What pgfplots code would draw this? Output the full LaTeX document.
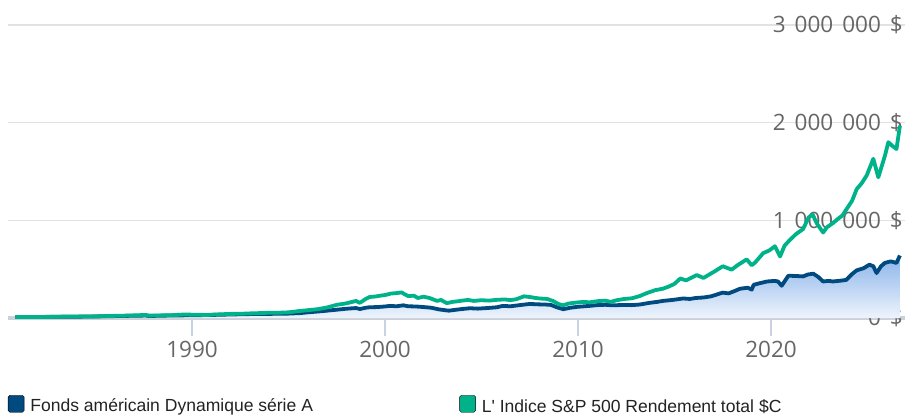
\documentclass[border=0pt]{standalone}
\usepackage{pgfplots}
\pgfplotsset{compat=1.18}
\usepackage{pgfplotstable}
\usepackage{fontspec}
\setmainfont{Open Sans}
\newfontfamily\legendfont{Liberation Sans}
\definecolor{fundblue}{RGB}{0,74,127}
\definecolor{spgreen}{RGB}{0,178,138}
\definecolor{filltop}{RGB}{138,180,234}
\definecolor{fillbot}{RGB}{238,244,252}
\definecolor{gridgray}{RGB}{226,226,226}
\definecolor{basegray}{RGB}{204,208,216}
\definecolor{tickblue}{RGB}{200,210,228}
\definecolor{labelgray}{RGB}{102,102,102}
\definecolor{legendtext}{RGB}{34,34,34}
\newcommand{\gsp}{\hspace{0.4em}}

\pgfplotstableread{
year value
1980.85 10000
1982.0 10500
1983.0 12500
1984.0 13500
1985.0 16000
1986.0 19500
1987.0 23000
1987.6 25000
1987.8 20000
1988.0 21500
1989.0 26000
1990.0 28000
1991.0 31000
1992.0 36000
1993.0 40000
1994.0 42000
1995.0 45000
1995.6 50000
1996.0 58000
1996.5 66000
1997.0 75000
1997.5 85000
1998.0 95000
1998.5 102000
1998.7 92000
1999.0 105000
1999.2 110000
1999.6 112000
2000.0 118000
2000.26 124000
2000.6 120000
2000.95 130000
2001.2 120000
2001.6 118000
2002.0 112000
2002.4 105000
2002.8 88000
2003.3 75000
2003.7 85000
2004.0 92000
2004.4 100000
2004.8 96000
2005.3 102000
2005.8 110000
2006.1 124000
2006.5 120000
2006.9 130000
2007.5 144000
2007.9 140000
2008.3 138000
2008.6 134000
2008.9 110000
2009.24 90000
2009.6 105000
2010.0 115000
2010.6 124000
2011.0 132000
2011.4 135000
2011.8 130000
2012.3 133000
2012.8 132000
2013.2 138000
2013.7 155000
2014.1 165000
2014.4 175000
2014.9 185000
2015.45 200000
2015.8 195000
2016.1 205000
2016.5 210000
2016.9 222000
2017.5 260000
2017.8 252000
2018.1 275000
2018.4 300000
2018.8 310000
2019.0 290000
2019.1 340000
2019.43 357000
2019.8 374000
2020.2 380000
2020.36 374000
2020.55 330000
2020.9 433000
2021.3 430000
2021.67 426000
2021.9 445000
2022.19 454000
2022.45 420000
2022.7 374000
2023.0 380000
2023.2 374000
2023.6 382000
2023.9 390000
2024.2 450000
2024.44 488000
2024.8 510000
2025.1 546000
2025.3 530000
2025.47 460000
2025.7 530000
2025.9 564000
2026.2 580000
2026.5 564000
2026.68 640000
}\fund

\pgfplotstableread{
year value
1980.85 10000
1981.5 10500
1982.0 10000
1982.5 10500
1983.0 13000
1983.5 15000
1984.0 14500
1984.5 15000
1985.0 17000
1985.5 19500
1986.0 22000
1986.5 24000
1987.0 27000
1987.6 31000
1987.8 24000
1988.0 25500
1988.5 27000
1989.0 29000
1989.6 36000
1990.0 34000
1990.8 31000
1991.0 34000
1991.5 38000
1992.0 42000
1992.5 43000
1993.0 47000
1993.5 50000
1994.0 54000
1994.5 54000
1995.0 58000
1995.5 70000
1996.0 80000
1996.5 90000
1997.0 108000
1997.5 135000
1998.0 150000
1998.5 175000
1998.7 155000
1999.0 195000
1999.2 215000
1999.5 220000
1999.8 230000
2000.0 235000
2000.3 250000
2000.6 255000
2000.86 262000
2001.0 245000
2001.2 225000
2001.5 228000
2001.7 205000
2002.0 218000
2002.3 205000
2002.5 190000
2002.7 175000
2002.9 185000
2003.2 152000
2003.5 165000
2003.8 172000
2004.0 178000
2004.3 185000
2004.6 175000
2005.0 182000
2005.4 178000
2005.8 186000
2006.2 190000
2006.5 183000
2006.8 192000
2007.2 222000
2007.5 215000
2007.8 205000
2008.0 200000
2008.4 195000
2008.7 175000
2009.0 142000
2009.24 130000
2009.5 148000
2009.9 158000
2010.3 165000
2010.6 160000
2011.0 172000
2011.4 178000
2011.7 165000
2012.0 182000
2012.4 195000
2012.8 202000
2013.2 225000
2013.6 258000
2014.0 285000
2014.4 300000
2014.7 322000
2015.0 350000
2015.3 405000
2015.6 385000
2015.9 415000
2016.15 440000
2016.5 410000
2016.8 445000
2017.1 480000
2017.5 530000
2017.96 495000
2018.3 545000
2018.74 600000
2019.0 540000
2019.16 565000
2019.6 665000
2019.9 690000
2020.2 735000
2020.47 630000
2020.7 740000
2020.98 800000
2021.3 860000
2021.66 910000
2021.95 1030000
2022.15 1060000
2022.4 960000
2022.7 875000
2022.9 930000
2023.2 970000
2023.5 1020000
2023.7 1050000
2023.9 1110000
2024.2 1200000
2024.44 1320000
2024.7 1380000
2024.96 1460000
2025.3 1630000
2025.56 1440000
2025.9 1660000
2026.08 1800000
2026.3 1760000
2026.5 1730000
2026.68 1970000
}\spx

\begin{document}
\begin{tikzpicture}
\path[use as bounding box] (0,0) rectangle (905bp,415bp);
\begin{axis}[
  at={(8bp,97bp)}, anchor=south west,
  scale only axis, width=897bp, height=293bp,
  xmin=1980.466, xmax=2026.943,
  ymin=0, ymax=3000000,
  axis x line*=bottom,
  x axis line style={draw=basegray, line width=3bp},
  y axis line style={draw=none},
  xtick={1990,2000,2010,2020},
  xticklabels={1990,2000,2010,2020},
  ytick={0,1000000,2000000,3000000},
  yticklabels={0\gsp\$,1\gsp000\gsp000\gsp\$,2\gsp000\gsp000\gsp\$,3\gsp000\gsp000\gsp\$},
  scaled y ticks=false,
  ymajorgrids,
  major grid style={draw=gridgray, line width=1.3bp},
  xtick align=outside,
  ytick align=inside,
  major tick length=18bp,
  xtick style={draw=tickblue, line width=1.5bp},
  ytick style={draw=none},
  ticklabel style={font=\fontsize{22.6}{26}\selectfont, text=labelgray},
  yticklabel pos=left,
  yticklabel style={anchor=east, inner sep=0pt, xshift=895bp},
  xticklabel style={anchor=north, inner sep=0pt, yshift=-5bp},
  clip=false,
  legend columns=2,
  legend image code/.code={\fill[#1, rounded corners=1.8bp] (0bp,-6bp) rectangle (16bp,11bp);},
  legend style={draw=none, fill=none, inner sep=0pt, outer sep=0pt,
    at={(axis description cs:0,-0.263)}, anchor=north west,
    font=\legendfont\fontsize{17.6}{20}\selectfont,
    nodes={inner sep=0pt, text=legendtext},
    /tikz/every odd column/.append style={column sep=6bp},
    /tikz/every even column/.append style={column sep=0bp}},
]
\addplot[draw=none, top color=filltop, bottom color=fillbot, forget plot] table[x=year, y=value] {\fund} \closedcycle;
\addplot[fundblue, line width=3.8bp, line join=round, forget plot] table[x=year, y=value] {\fund};
\addplot[spgreen, line width=3.8bp, line join=round, forget plot] table[x=year, y=value] {\spx};
\addlegendimage{fill=fundblue}
\addlegendentry{\makebox[429bp][l]{Fonds américain Dynamique série A}}
\addlegendimage{fill=spgreen}
\addlegendentry{L' Indice S\&P 500 Rendement total \$C}
\end{axis}
\end{tikzpicture}
\end{document}
